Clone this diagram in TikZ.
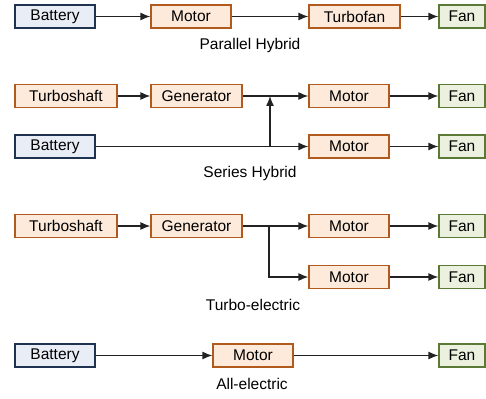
\documentclass[tikz,border=0pt]{standalone}
\usepackage{fontspec}
\setmainfont{Liberation Sans}
\usetikzlibrary{arrows.meta}
\definecolor{batfill}{HTML}{E9EEF6}
\definecolor{batdraw}{HTML}{1F3350}
\definecolor{engfill}{HTML}{FDEADB}
\definecolor{engdraw}{HTML}{B05A1E}
\definecolor{fanfill}{HTML}{EBF1DE}
\definecolor{fandraw}{HTML}{5B7A35}
\definecolor{linec}{HTML}{222222}
\begin{document}
\begin{tikzpicture}[x=1pt,y=-1pt,
  box/.style={draw, line width=1.2pt, inner sep=0pt, minimum height=23pt, font=\fontsize{15.5}{18}\selectfont},
  bat/.style={box, fill=batfill, draw=batdraw, minimum width=80pt},
  eng/.style={box, fill=engfill, draw=engdraw},
  fanbox/.style={box, fill=fanfill, draw=fandraw, minimum width=46pt},
  titlelbl/.style={font=\fontsize{15.5}{18}\selectfont, inner sep=0pt},
  arr/.style={-{Latex[length=10pt,width=8pt]}, line width=1.3pt, draw=linec},
  ln/.style={line width=1.3pt, draw=linec}]
\useasboundingbox (0,0) rectangle (486,398);
% Parallel hybrid
\node[bat] (b1) at (55,16.5) {Battery};
\node[eng, minimum width=80pt] (m1) at (191,16.5) {Motor};
\node[eng, minimum width=91pt] (t1) at (354.5,16.5) {Turbofan};
\node[fanbox] (f1) at (462,16.5) {Fan};
\node[titlelbl] (c1) at (250,45) {Parallel Hybrid};
\draw[arr] (b1) -- (m1);
\draw[arr] (m1) -- (t1);
\draw[arr] (t1) -- (f1);
% Series hybrid
\node[eng, minimum width=102pt] (ts2) at (66,96) {Turboshaft};
\node[eng, minimum width=91pt] (g2) at (196.5,96) {Generator};
\node[eng, minimum width=80pt] (m2) at (349,96) {Motor};
\node[fanbox] (f2) at (462,96) {Fan};
\node[bat] (b3) at (55,146.5) {Battery};
\node[eng, minimum width=80pt] (m3) at (349,146.5) {Motor};
\node[fanbox] (f3) at (462,146.5) {Fan};
\node[titlelbl] (c2) at (250,173.5) {Series Hybrid};
\coordinate (j2) at (270,146.5);
\coordinate (j2t) at (270,96);
\draw[arr] (ts2) -- (g2);
\draw[arr] (g2) -- (m2);
\draw[arr] (m2) -- (f2);
\draw[arr] (b3) -- (m3);
\draw[arr] (m3) -- (f3);
\draw[arr] (j2) -- (j2t);
% Turbo-electric
\node[eng, minimum width=102pt] (ts4) at (66,226) {Turboshaft};
\node[eng, minimum width=91pt] (g4) at (196.5,226) {Generator};
\node[eng, minimum width=80pt] (m4) at (349,226) {Motor};
\node[fanbox] (f4) at (462,226) {Fan};
\node[eng, minimum width=80pt] (m5) at (349,277) {Motor};
\node[fanbox] (f5) at (462,277) {Fan};
\node[titlelbl] (c3) at (253,304.5) {Turbo-electric};
\coordinate (j4) at (269,226);
\draw[arr] (ts4) -- (g4);
\draw[arr] (g4) -- (m4);
\draw[arr] (m4) -- (f4);
\draw[arr] (j4) |- (m5);
\draw[arr] (m5) -- (f5);
% All-electric
\node[bat] (b6) at (55,355.5) {Battery};
\node[eng, minimum width=80pt] (m6) at (253,355.5) {Motor};
\node[fanbox] (f6) at (462,355.5) {Fan};
\node[titlelbl] (c4) at (252,383.5) {All-electric};
\draw[arr] (b6) -- (m6);
\draw[arr] (m6) -- (f6);
\end{tikzpicture}
\end{document}
